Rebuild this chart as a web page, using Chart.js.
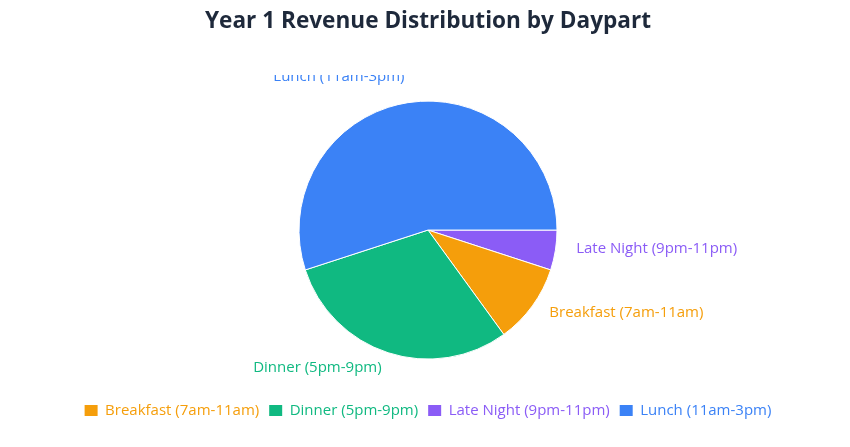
<!DOCTYPE html>
<html>
<head>
<meta charset="utf-8">
<script src="https://cdn.jsdelivr.net/npm/chart.js@4.4.1/dist/chart.umd.min.js"></script>
<style>
  html, body { margin: 0; padding: 0; background: #ffffff; }
  #wrap { width: 850px; height: 447px; }
</style>
</head>
<body>
<div id="wrap"><canvas id="pieChart"></canvas></div>
<script>
// slice order as drawn clockwise from 3 o'clock
var dayparts = ['Late Night (9pm-11pm)', 'Breakfast (7am-11am)', 'Dinner (5pm-9pm)', 'Lunch (11am-3pm)'];
var revenueShare = [5, 10, 30, 55];
var sliceColors = ['#8b5cf6', '#f59e0b', '#10b981', '#3b82f6'];

var FONT = "'Open Sans', 'Noto Sans', sans-serif";

// labels outside the slices, same colour as the slice
var outsideLabels = {
  id: 'outsideLabels',
  afterDatasetsDraw: function(chart) {
    var ctx = chart.ctx;
    var meta = chart.getDatasetMeta(0);
    ctx.save();
    ctx.beginPath();
    ctx.rect(0, 75, chart.width, chart.height - 75);
    ctx.clip();
    ctx.font = '15px ' + FONT;
    ctx.textBaseline = 'middle';
    meta.data.forEach(function(arc, i) {
      var p = arc.getProps(['x', 'y', 'startAngle', 'endAngle', 'outerRadius'], true);
      var mid = (p.startAngle + p.endAngle) / 2;
      var r = p.outerRadius + 21;
      var x = p.x + Math.cos(mid) * r;
      var y = p.y + Math.sin(mid) * r - 5;
      ctx.fillStyle = sliceColors[i];
      ctx.textAlign = Math.cos(mid) >= 0 ? 'left' : 'right';
      ctx.fillText(dayparts[i], x, y);
    });
    ctx.restore();
  }
};

new Chart(document.getElementById('pieChart').getContext('2d'), {
  type: 'pie',
  data: {
    labels: dayparts,
    datasets: [{
      data: revenueShare,
      backgroundColor: sliceColors,
      borderColor: '#ffffff',
      borderWidth: 1,
      radius: 129
    }]
  },
  options: {
    responsive: true,
    maintainAspectRatio: false,
    animation: false,
    rotation: 90,
    layout: { padding: { top: 0, bottom: 19, left: 6, right: 0 } },
    plugins: {
      title: {
        display: true,
        text: 'Year 1 Revenue Distribution by Daypart',
        color: '#1e293b',
        font: { family: FONT, size: 22.6, weight: 'bold' },
        padding: { top: 8, bottom: 32 }
      },
      legend: {
        position: 'bottom',
        labels: {
          font: { family: FONT, size: 15 },
          boxWidth: 13,
          boxHeight: 11,
          padding: 10,
          sort: function(a, b) { return a.text.localeCompare(b.text); },
          generateLabels: function(chart) {
            var items = Chart.overrides.pie.plugins.legend.labels.generateLabels(chart);
            items.forEach(function(it) {
              it.fontColor = sliceColors[it.index];
              it.strokeStyle = sliceColors[it.index];
              it.lineWidth = 0;
            });
            return items;
          }
        }
      },
      tooltip: { enabled: false }
    }
  },
  plugins: [outsideLabels]
});
</script>
</body>
</html>
